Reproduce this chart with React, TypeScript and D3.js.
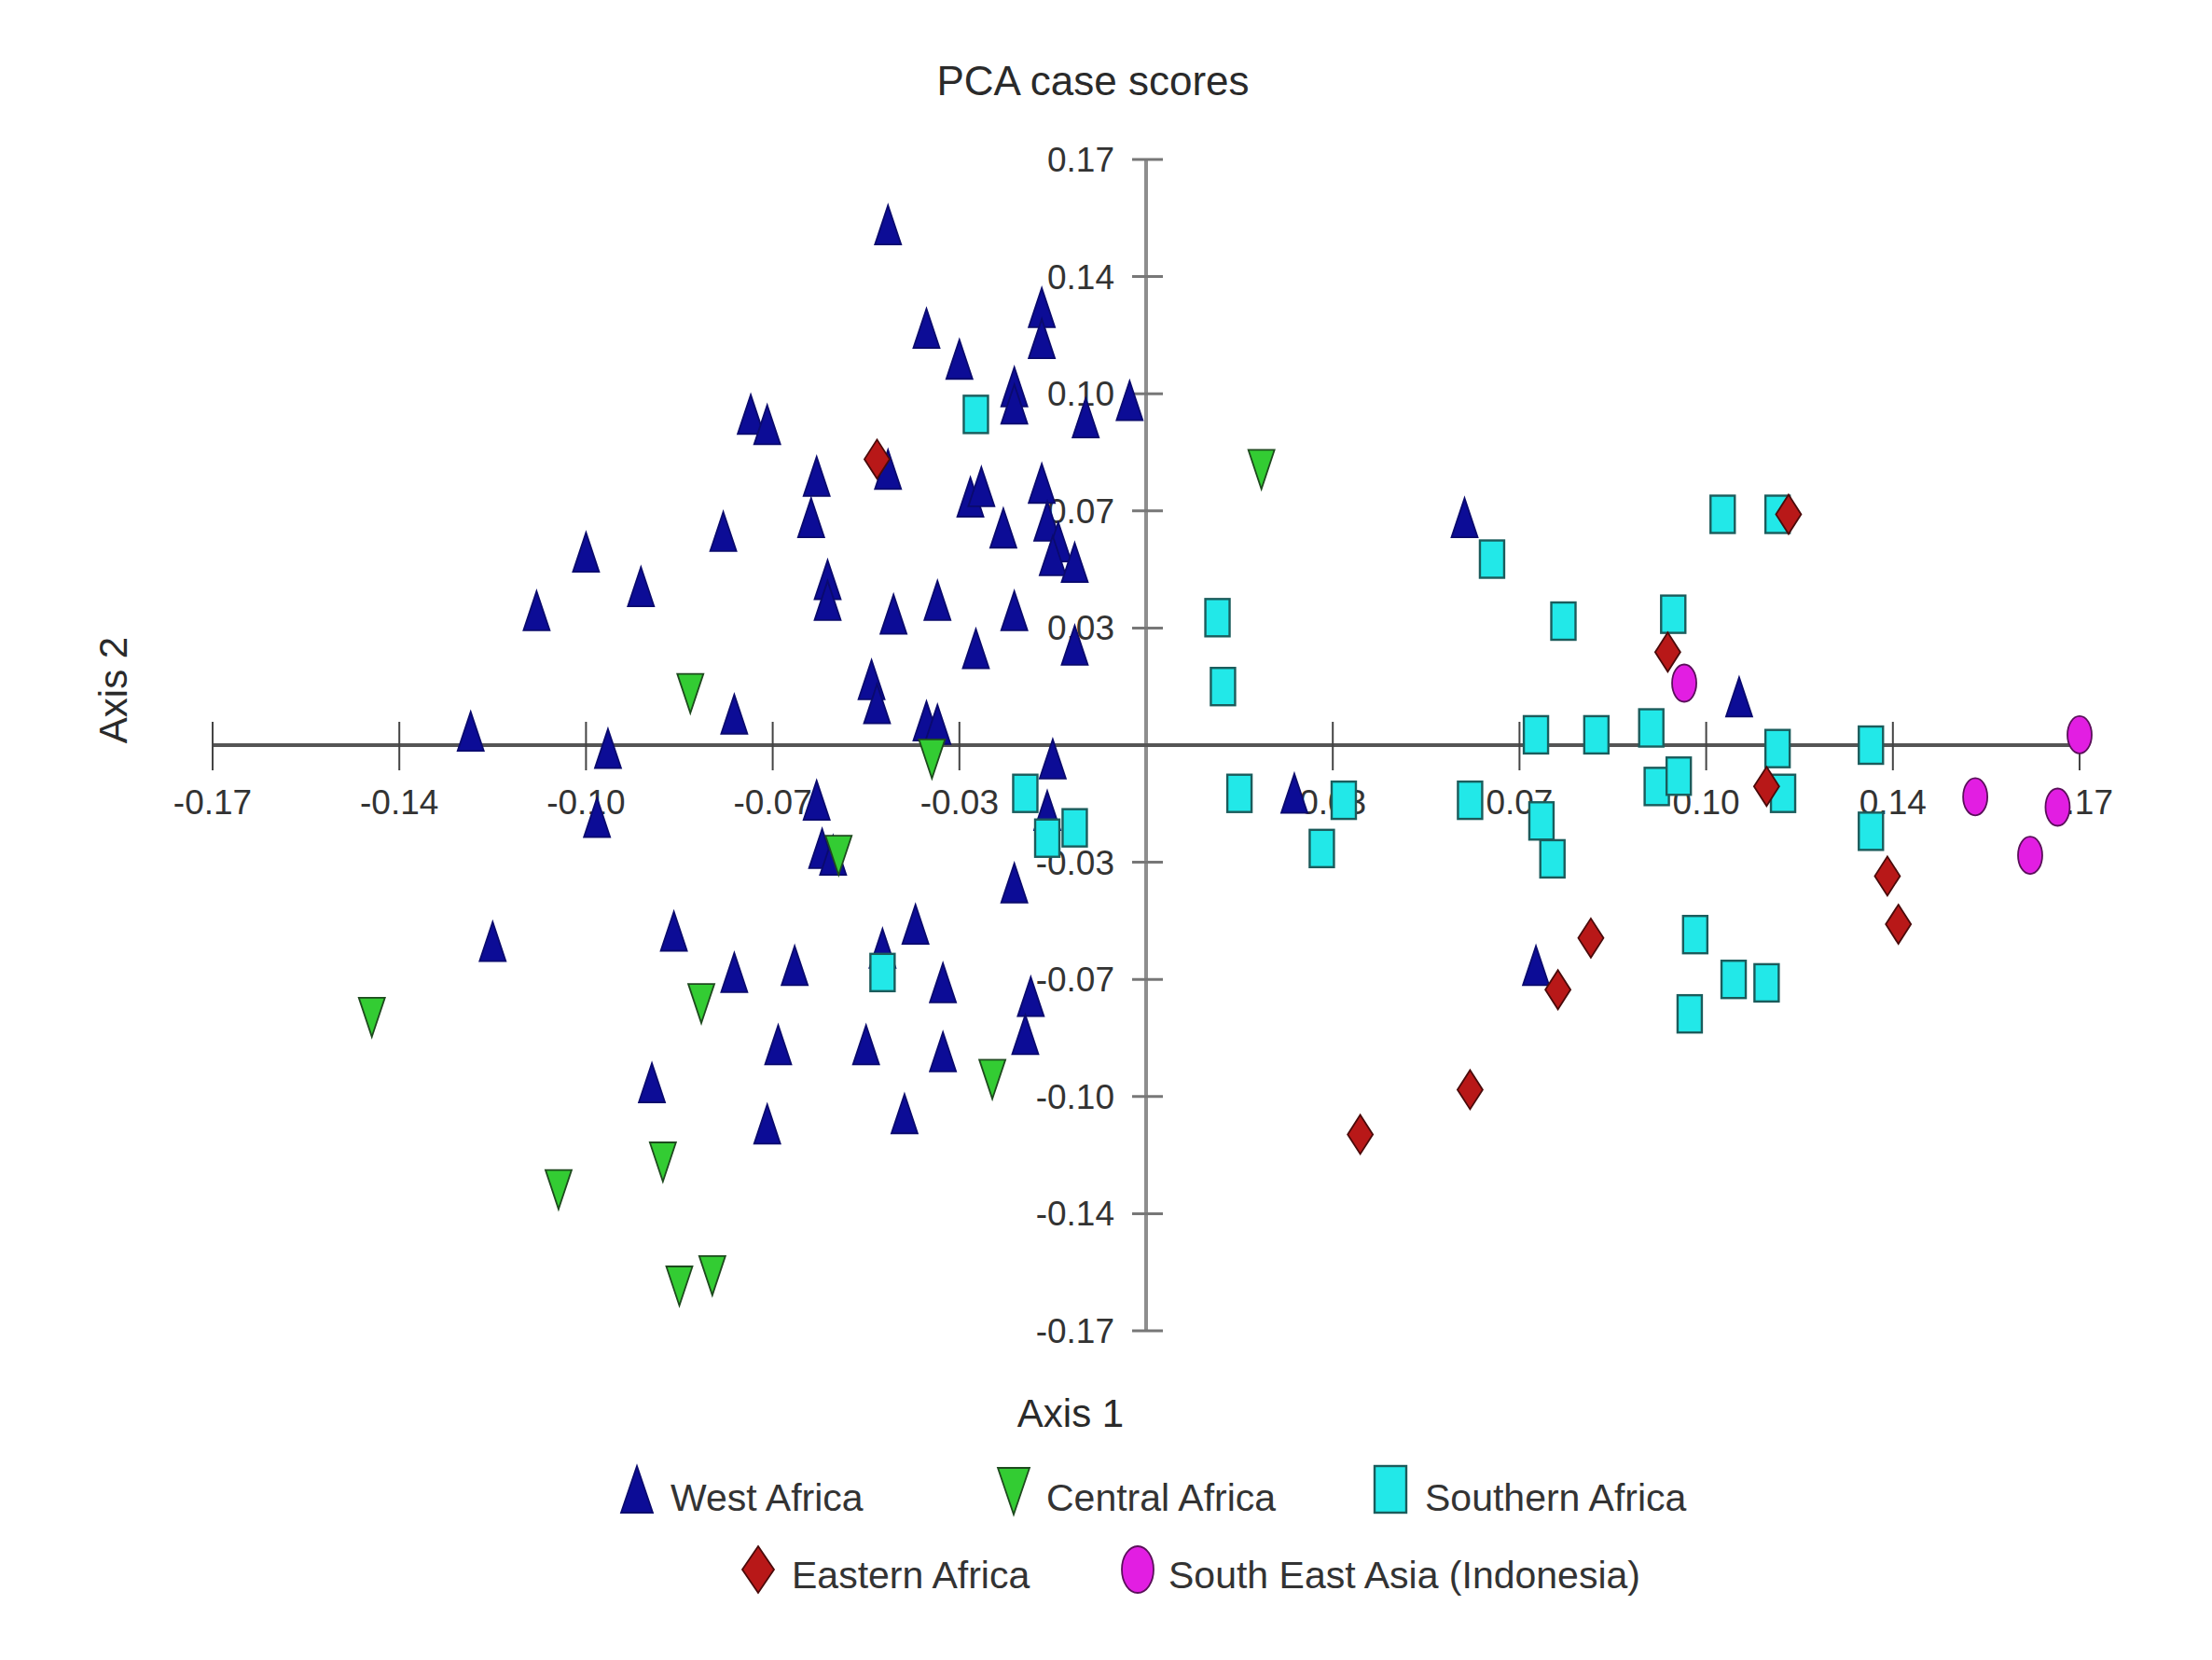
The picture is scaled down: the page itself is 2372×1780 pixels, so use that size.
import React from 'react';
import * as d3 from 'd3';

const W = 2372;
const H = 1780;

const westAfrica: [number, number][] = [
  [-0.047, 0.151], [-0.040, 0.121], [-0.019, 0.127], [-0.019, 0.118], [-0.034, 0.112],
  [-0.024, 0.104], [-0.024, 0.099], [-0.011, 0.095], [-0.003, 0.100], [-0.072, 0.096],
  [-0.069, 0.093], [-0.047, 0.080], [-0.060, 0.078], [-0.032, 0.072], [-0.030, 0.075],
  [-0.019, 0.076], [-0.077, 0.062], [-0.061, 0.066], [-0.026, 0.063], [-0.018, 0.065],
  [-0.016, 0.059], [-0.017, 0.055], [-0.013, 0.053], [-0.102, 0.056], [-0.092, 0.046],
  [-0.111, 0.039], [-0.058, 0.048], [-0.058, 0.042], [-0.046, 0.038], [-0.038, 0.042],
  [-0.024, 0.039], [-0.031, 0.028], [-0.013, 0.029], [-0.050, 0.019], [-0.049, 0.012],
  [-0.075, 0.009], [-0.040, 0.007], [-0.038, 0.006], [-0.123, 0.004], [-0.098, -0.001],
  [-0.017, -0.004], [0.058, 0.066], [0.108, 0.014], [0.027, -0.014], [0.071, -0.064],
  [-0.100, -0.021], [-0.060, -0.016], [-0.059, -0.030], [-0.057, -0.032], [-0.024, -0.040],
  [-0.119, -0.057], [-0.086, -0.054], [-0.075, -0.066], [-0.064, -0.064], [-0.048, -0.059],
  [-0.042, -0.052], [-0.037, -0.069], [-0.021, -0.073], [-0.022, -0.084], [-0.067, -0.087],
  [-0.051, -0.087], [-0.037, -0.089], [-0.090, -0.098], [-0.069, -0.110], [-0.044, -0.107],
  [-0.018, -0.019],
];

const centralAfrica: [number, number][] = [
  [0.021, 0.080], [-0.083, 0.015], [-0.039, -0.004], [-0.056, -0.032], [-0.141, -0.079],
  [-0.081, -0.075], [-0.028, -0.097], [-0.088, -0.121], [-0.107, -0.129], [-0.085, -0.157],
  [-0.079, -0.154],
];

const southernAfrica: [number, number][] = [
  [-0.031, 0.096], [0.105, 0.067], [0.115, 0.067], [0.063, 0.054], [0.013, 0.037],
  [0.076, 0.036], [0.096, 0.038], [0.014, 0.017], [0.071, 0.003], [0.082, 0.003],
  [0.092, 0.005], [0.115, -0.001], [0.132, 0.000], [-0.022, -0.014], [0.017, -0.014],
  [0.036, -0.016], [0.059, -0.016], [0.093, -0.012], [0.097, -0.009], [0.116, -0.014],
  [-0.018, -0.027], [-0.013, -0.024], [0.032, -0.030], [0.072, -0.022], [0.074, -0.033],
  [0.132, -0.025], [-0.048, -0.066], [0.100, -0.055], [0.107, -0.068], [0.113, -0.069],
  [0.099, -0.078],
];

const easternAfrica: [number, number][] = [
  [-0.049, 0.083], [0.117, 0.067], [0.095, 0.027], [0.113, -0.012], [0.135, -0.038],
  [0.137, -0.052], [0.081, -0.056], [0.075, -0.071], [0.059, -0.100], [0.039, -0.113],
];

const southEastAsia: [number, number][] = [
  [0.098, 0.018], [0.170, 0.003], [0.151, -0.015], [0.166, -0.018], [0.161, -0.032],
];

const tickValues = [-0.17, -0.136, -0.102, -0.068, -0.034, 0.034, 0.068, 0.102, 0.136, 0.17];
const tickLabels = ['-0.17', '-0.14', '-0.10', '-0.07', '-0.03', '0.03', '0.07', '0.10', '0.14', '0.17'];

type Shape = 'up' | 'down' | 'rect' | 'diamond' | 'ellipse';

const seriesNames = ['West Africa', 'Central Africa', 'Southern Africa', 'Eastern Africa', 'South East Asia (Indonesia)'];
const seriesData = [westAfrica, centralAfrica, southernAfrica, easternAfrica, southEastAsia];
const seriesShapes: Shape[] = ['up', 'down', 'rect', 'diamond', 'ellipse'];
const seriesFill = ['#0c0c96', '#33cc33', '#22e8e8', '#b81818', '#e21ee2'];
const seriesStroke = ['#0a0a6e', '#1e4a1e', '#1b5c5c', '#4a0a0a', '#5a105a'];

const FONT = '"Liberation Sans", Arial, Helvetica, sans-serif';

function Marker({ shape, w, h, fill, stroke }: { shape: Shape; w: number; h: number; fill: string; stroke: string }) {
  const sw = 1.8;
  if (shape === 'up') {
    return <path d={`M0,${-h / 2}L${w / 2},${h / 2}L${-w / 2},${h / 2}Z`} fill={fill} stroke={stroke} strokeWidth={sw} />;
  }
  if (shape === 'down') {
    return <path d={`M0,${h / 2}L${w / 2},${-h / 2}L${-w / 2},${-h / 2}Z`} fill={fill} stroke={stroke} strokeWidth={sw} />;
  }
  if (shape === 'rect') {
    return <rect x={-w / 2} y={-h / 2} width={w} height={h} fill={fill} stroke={stroke} strokeWidth={sw + 0.6} />;
  }
  if (shape === 'diamond') {
    return <path d={`M0,${-h / 2}L${w / 2},0L0,${h / 2}L${-w / 2},0Z`} fill={fill} stroke={stroke} strokeWidth={sw} />;
  }
  return <ellipse rx={w / 2} ry={h / 2} fill={fill} stroke={stroke} strokeWidth={sw} />;
}

const legendLayout = [
  { mx: 683, my: 1597, tx: 719, ty: 1620 },
  { mx: 1087, my: 1599, tx: 1122, ty: 1620 },
  { mx: 1491, my: 1597, tx: 1528, ty: 1620 },
  { mx: 813, my: 1683, tx: 849, ty: 1703 },
  { mx: 1220, my: 1683, tx: 1253, ty: 1703 },
];

export default function App() {
  const x = d3.scaleLinear().domain([-0.17, 0.17]).range([228, 2230]);
  const y = d3.scaleLinear().domain([-0.17, 0.17]).range([1427, 171]);
  const x0 = x(0);
  const y0 = y(0);

  const markerSize: Record<Shape, [number, number]> = {
    up: [28, 42],
    down: [28, 42],
    rect: [26, 40],
    diamond: [27, 42],
    ellipse: [26, 40],
  };

  return (
    <svg
      width={W}
      height={H}
      viewBox={`0 0 ${W} ${H}`}
      style={{ position: 'absolute', left: 0, top: 0, background: '#fff' }}
      fontFamily={FONT}
    >
      <rect x={0} y={0} width={W} height={H} fill="#fff" />
      <text x={1172} y={102} textAnchor="middle" fontSize={44} fill="#2a2a2a">PCA case scores</text>

      {/* Y axis */}
      <line x1={x0} x2={x0} y1={y(0.17)} y2={y(-0.17)} stroke="#8e8e8e" strokeWidth={4} />
      {tickValues.map((v, i) => (
        <g key={`yt${i}`}>
          <line x1={x0 - 15} x2={x0 + 18} y1={y(v)} y2={y(v)} stroke="#777" strokeWidth={3} />
          <text x={x0 - 34} y={y(v)} dy="0.35em" textAnchor="end" fontSize={37} fill="#333">{tickLabels[i]}</text>
        </g>
      ))}

      {/* X axis */}
      <line x1={x(-0.17)} x2={x(0.17)} y1={y0} y2={y0} stroke="#555" strokeWidth={4} />
      {tickValues.map((v, i) => (
        <g key={`xt${i}`}>
          <line x1={x(v)} x2={x(v)} y1={y0 - 25} y2={y0 + 27} stroke="#444" strokeWidth={2} />
          <text x={x(v)} y={y0 + 74} textAnchor="middle" fontSize={37} fill="#333">{tickLabels[i]}</text>
        </g>
      ))}

      <text x={1148} y={1530} textAnchor="middle" fontSize={42} fill="#2a2a2a">Axis 1</text>
      <text transform={`translate(136,740) rotate(-90)`} textAnchor="middle" fontSize={42} fill="#2a2a2a">Axis 2</text>

      {/* points */}
      {seriesData.map((data, si) => (
        <g key={`s${si}`}>
          {data.map((d, i) => (
            <g key={i} transform={`translate(${x(d[0])},${y(d[1])})`}>
              <Marker
                shape={seriesShapes[si]}
                w={markerSize[seriesShapes[si]][0]}
                h={markerSize[seriesShapes[si]][1]}
                fill={seriesFill[si]}
                stroke={seriesStroke[si]}
              />
            </g>
          ))}
        </g>
      ))}

      {/* legend */}
      {seriesNames.map((name, i) => (
        <g key={`l${i}`}>
          <g transform={`translate(${legendLayout[i].mx},${legendLayout[i].my})`}>
            <Marker shape={seriesShapes[i]} w={34} h={50} fill={seriesFill[i]} stroke={seriesStroke[i]} />
          </g>
          <text x={legendLayout[i].tx} y={legendLayout[i].ty} fontSize={41} fill="#333">{name}</text>
        </g>
      ))}
    </svg>
  );
}
